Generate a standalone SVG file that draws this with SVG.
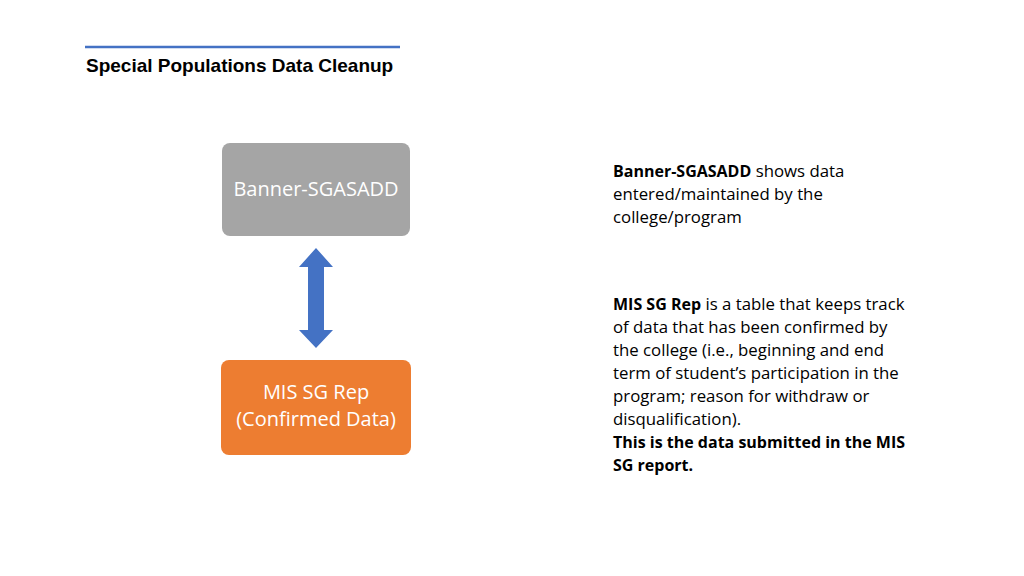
<svg xmlns="http://www.w3.org/2000/svg" width="1024" height="576" viewBox="0 0 1024 576">
<style>
.t{font-family:"Liberation Sans",Arial,sans-serif;}
.node{font-family:"Open Sans","Liberation Sans",sans-serif;font-size:20px;fill:#fff;text-anchor:middle;}
.body{font-family:"Open Sans","Liberation Sans",sans-serif;font-size:16.8px;fill:#000;}
.b{font-weight:bold;font-size:16px;}
</style>
<rect width="1024" height="576" fill="#fff"/>
<g id="header">
<line x1="85" y1="47" x2="400" y2="47" stroke="#4472C4" stroke-width="2.5"/>
<text class="t" x="86" y="72" font-size="19" font-weight="bold" fill="#000">Special Populations Data Cleanup</text>
</g>
<g id="node-banner">
<rect x="222" y="143" width="188" height="93" rx="8" fill="#A5A5A5"/>
<text class="node" x="316" y="196" font-size="20.5">Banner-SGASADD</text>
</g>
<g id="node-mis">
<rect x="221" y="360" width="190" height="95" rx="8" fill="#ED7D31"/>
<text class="node" x="316" y="398.5">MIS SG Rep</text>
<text class="node" x="316" y="426">(Confirmed Data)</text>
</g>
<g id="connectors">
<polygon points="316,248 333,267 324,267 324,330 333,330 316,348 299,330 308,330 308,267 299,267" fill="#4472C4"/>
</g>
<g id="notes">
<text class="body" x="613" y="177"><tspan class="b">Banner-SGASADD</tspan> shows data</text>
<text class="body" x="613" y="200">entered/maintained by the</text>
<text class="body" x="613" y="223">college/program</text>
<text class="body" x="613" y="310"><tspan class="b">MIS SG Rep</tspan> is a table that keeps track</text>
<text class="body" x="613" y="333">of data that has been confirmed by</text>
<text class="body" x="613" y="356">the college (i.e., beginning and end</text>
<text class="body" x="613" y="379">term of student’s participation in the</text>
<text class="body" x="613" y="402">program; reason for withdraw or</text>
<text class="body" x="613" y="425">disqualification).</text>
<text class="body b" x="613" y="448">This is the data submitted in the MIS</text>
<text class="body b" x="613" y="471">SG report.</text>
</g>
</svg>
